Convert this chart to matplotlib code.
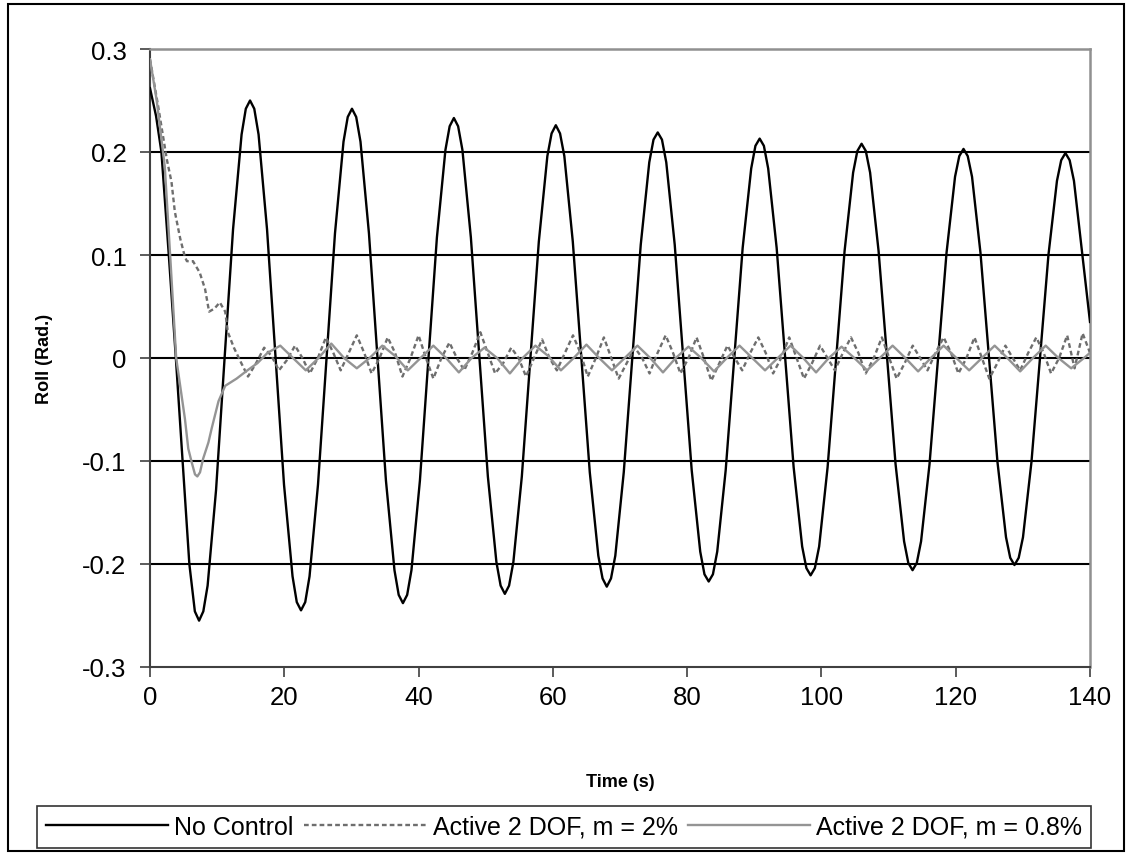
import matplotlib.pyplot as plt
from matplotlib.patches import Rectangle

# No Control roll response
t_nc = [0.0, 0.9, 1.7, 2.8, 3.85, 4.86, 5.86,
        6.68, 7.31, 7.94, 8.58, 9.84, 11.11, 12.37, 13.64,
        14.27, 14.90, 15.53, 16.17, 17.43, 18.70, 19.96, 21.23,
        21.86, 22.49, 23.12, 23.76, 25.02, 26.29, 27.55, 28.82,
        29.45, 30.08, 30.71, 31.35, 32.61, 33.88, 35.14, 36.41,
        37.04, 37.67, 38.30, 38.94, 40.20, 41.47, 42.73, 44.00,
        44.63, 45.26, 45.89, 46.53, 47.79, 49.06, 50.32, 51.59,
        52.22, 52.85, 53.48, 54.12, 55.38, 56.65, 57.91, 59.18,
        59.81, 60.44, 61.07, 61.71, 62.97, 64.24, 65.50, 66.77,
        67.40, 68.03, 68.66, 69.30, 70.56, 71.83, 73.09, 74.36,
        74.99, 75.62, 76.25, 76.89, 78.15, 79.42, 80.68, 81.95,
        82.58, 83.21, 83.84, 84.48, 85.74, 87.01, 88.27, 89.54,
        90.17, 90.80, 91.43, 92.07, 93.33, 94.60, 95.86, 97.13,
        97.76, 98.39, 99.02, 99.66, 100.92, 102.19, 103.45, 104.72,
        105.35, 105.98, 106.61, 107.25, 108.51, 109.78, 111.04, 112.31,
        112.94, 113.57, 114.20, 114.84, 116.10, 117.37, 118.63, 119.90,
        120.53, 121.16, 121.79, 122.43, 123.69, 124.96, 126.22, 127.49,
        128.12, 128.75, 129.38, 130.02, 131.28, 132.55, 133.81, 135.08,
        135.71, 136.34, 136.97, 137.61, 138.87, 140.0]
roll_nc = [0.262, 0.235, 0.200, 0.100, 0.0, -0.100, -0.200,
           -0.246, -0.255, -0.246, -0.221, -0.128, 0.0, 0.125, 0.217,
           0.242, 0.250, 0.242, 0.217, 0.125, 0.0, -0.123, -0.212,
           -0.237, -0.245, -0.237, -0.212, -0.123, 0.0, 0.121, 0.210,
           0.234, 0.242, 0.234, 0.210, 0.121, 0.0, -0.119, -0.206,
           -0.230, -0.238, -0.230, -0.206, -0.119, 0.0, 0.117, 0.202,
           0.225, 0.233, 0.225, 0.202, 0.117, 0.0, -0.115, -0.198,
           -0.221, -0.229, -0.221, -0.198, -0.115, 0.0, 0.113, 0.196,
           0.218, 0.226, 0.218, 0.196, 0.113, 0.0, -0.111, -0.192,
           -0.214, -0.222, -0.214, -0.192, -0.111, 0.0, 0.110, 0.190,
           0.212, 0.219, 0.212, 0.190, 0.110, 0.0, -0.109, -0.188,
           -0.210, -0.217, -0.210, -0.188, -0.109, 0.0, 0.107, 0.184,
           0.206, 0.213, 0.206, 0.184, 0.107, 0.0, -0.106, -0.183,
           -0.204, -0.211, -0.204, -0.183, -0.106, 0.0, 0.104, 0.180,
           0.201, 0.208, 0.201, 0.180, 0.104, 0.0, -0.103, -0.178,
           -0.199, -0.206, -0.199, -0.178, -0.103, 0.0, 0.102, 0.176,
           0.196, 0.203, 0.196, 0.176, 0.102, 0.0, -0.101, -0.174,
           -0.194, -0.201, -0.194, -0.174, -0.101, 0.0, 0.100, 0.172,
           0.192, 0.199, 0.192, 0.172, 0.100, 0.035]

# Active 2 DOF, m = 2%
t_m2 = [0.0, 1.2, 2.5, 3.2, 3.7, 4.5, 5.2, 5.5, 6.4, 7.4, 8.2, 8.8, 9.6,
        10.4, 11.2, 11.6, 12.5, 13.6, 14.6, 15.8, 17.0, 18.1, 19.2, 20.4,
        21.6, 22.7, 23.8, 25.0, 26.2, 27.3, 28.4, 29.6, 30.8, 31.9, 33.0,
        34.2, 35.4, 36.5, 37.6, 38.8, 40.0, 41.1, 42.2, 43.4, 44.6, 45.7,
        46.8, 48.0, 49.2, 50.3, 51.4, 52.6, 53.8, 54.9, 56.0, 57.2, 58.4,
        59.5, 60.6, 61.8, 63.0, 64.1, 65.2, 66.4, 67.6, 68.7, 69.8, 71.0,
        72.2, 73.3, 74.4, 75.6, 76.8, 77.9, 79.0, 80.2, 81.4, 82.5, 83.6,
        84.8, 86.0, 87.1, 88.2, 89.4, 90.6, 91.7, 92.8, 94.0, 95.2, 96.3,
        97.4, 98.6, 99.8, 100.9, 102.0, 103.2, 104.4, 105.5, 106.6, 107.8,
        109.0, 110.1, 111.2, 112.4, 113.6, 114.7, 115.8, 117.0, 118.2,
        119.3, 120.4, 121.6, 122.8, 123.9, 125.0, 126.2, 127.4, 128.5,
        129.6, 130.8, 132.0, 133.1, 134.2, 135.4, 136.6, 137.7, 138.9, 140.0]
roll_m2 = [0.290, 0.245, 0.193, 0.171, 0.142, 0.116, 0.098, 0.094, 0.094,
           0.083, 0.067, 0.045, 0.048, 0.054, 0.045, 0.025, 0.010, -0.005,
           -0.018, -0.005, 0.010, 0.002, -0.012, -0.002, 0.012, 0.0, -0.015,
           0.0, 0.020, 0.005, -0.012, 0.005, 0.022, 0.005, -0.015, 0.0,
           0.020, 0.005, -0.018, 0.0, 0.022, 0.0, -0.020, 0.0, 0.015, 0.0,
           -0.012, 0.005, 0.025, 0.005, -0.015, -0.005, 0.010, 0.0, -0.018,
           0.0, 0.018, 0.0, -0.012, 0.005, 0.022, 0.005, -0.018, 0.0, 0.020,
           0.0, -0.020, -0.005, 0.010, 0.0, -0.015, 0.005, 0.022, 0.005,
           -0.015, 0.0, 0.020, 0.0, -0.022, -0.005, 0.012, 0.0, -0.012, 0.005,
           0.020, 0.005, -0.015, 0.0, 0.020, 0.0, -0.020, -0.005, 0.012, 0.0,
           -0.012, 0.005, 0.020, 0.005, -0.015, 0.0, 0.020, 0.0, -0.020,
           -0.005, 0.012, 0.0, -0.012, 0.005, 0.020, 0.005, -0.015, 0.0,
           0.020, 0.0, -0.020, -0.005, 0.012, 0.0, -0.012, 0.005, 0.020,
           0.005, -0.015, 0.0, 0.022, -0.010, 0.024, 0.005]

# Active 2 DOF, m = 0.8%
t_m08 = [0.0, 1.0, 2.2, 3.0, 3.9, 5.2, 5.7, 6.2, 6.7, 7.05, 7.45, 7.9,
         8.7, 9.2, 10.2, 11.2, 12.9, 14.5, 16.0, 17.5, 19.4, 21.3, 23.2,
         25.1, 27.0, 28.9, 30.8, 32.7, 34.6, 36.5, 38.4, 40.3, 42.2, 44.1,
         46.0, 47.9, 49.8, 51.7, 53.6, 55.5, 57.4, 59.3, 61.2, 63.1, 65.0,
         66.9, 68.8, 70.7, 72.6, 74.5, 76.4, 78.3, 80.2, 82.1, 84.0, 85.9,
         87.8, 89.7, 91.6, 93.5, 95.4, 97.3, 99.2, 101.1, 103.0, 104.9,
         106.8, 108.7, 110.6, 112.5, 114.4, 116.3, 118.2, 120.1, 122.0,
         123.9, 125.8, 127.7, 129.6, 131.5, 133.4, 135.3, 137.2, 139.1, 140.0]
roll_m08 = [0.290, 0.250, 0.186, 0.100, 0.0, -0.059, -0.088, -0.101, -0.113,
            -0.115, -0.111, -0.098, -0.082, -0.068, -0.042, -0.027, -0.020,
            -0.012, -0.005, 0.005, 0.012, 0.0, -0.012, 0.0, 0.014, 0.0, -0.010,
            0.0, 0.012, 0.002, -0.012, 0.0, 0.012, 0.0, -0.014, 0.0, 0.010,
            0.0, -0.015, 0.0, 0.012, 0.002, -0.012, 0.0, 0.013, 0.0, -0.012,
            0.0, 0.012, 0.0, -0.014, 0.0, 0.011, 0.0, -0.013, 0.0, 0.012, 0.0,
            -0.012, 0.0, 0.012, 0.0, -0.014, 0.0, 0.011, 0.0, -0.012, 0.0,
            0.012, 0.0, -0.013, 0.0, 0.012, 0.0, -0.012, 0.0, 0.012, 0.0,
            -0.013, 0.0, 0.012, 0.0, -0.010, 0.0, 0.005]

x_ticks = [0, 20, 40, 60, 80, 100, 120, 140]
y_ticks = [-0.3, -0.2, -0.1, 0, 0.1, 0.2, 0.3]
y_labels = ['-0.3', '-0.2', '-0.1', '0', '0.1', '0.2', '0.3']

plt.rcParams['font.family'] = ['Liberation Sans', 'DejaVu Sans']

fig = plt.figure(figsize=(11.30, 8.54), dpi=100)
ax = fig.add_axes([150 / 1130, 1 - 668 / 854, 940 / 1130, 618 / 854])

# horizontal grid lines
for y in y_ticks[1:-1]:
    ax.axhline(y, color='black', linewidth=1.5, zorder=1)

ax.plot(t_nc, roll_nc, color='black', linewidth=1.7, label='No Control', zorder=3)
ax.plot(t_m2, roll_m2, color='#6e6e6e', linewidth=1.7, dashes=(2, 1.3),
        label='Active 2 DOF, m = 2%', zorder=4)
ax.plot(t_m08, roll_m08, color='#949494', linewidth=1.7,
        label='Active 2 DOF, m = 0.8%', zorder=5)

ax.set_xlim(0, 140)
ax.set_ylim(-0.3, 0.3)
ax.set_xticks(x_ticks)
ax.set_yticks(y_ticks)
ax.set_yticklabels(y_labels)
ax.tick_params(axis='both', labelsize=18.5, direction='out', length=7,
               width=1.2, color='#404040')
ax.tick_params(axis='y', pad=10)
ax.tick_params(axis='x', pad=6)

for side in ['left', 'bottom']:
    ax.spines[side].set_color('#404040')
    ax.spines[side].set_linewidth(1.5)
for side in ['top', 'right']:
    ax.spines[side].set_color('#909090')
    ax.spines[side].set_linewidth(1.8)

ax.set_xlabel('Time (s)', fontsize=13, fontweight='bold', labelpad=46)
ax.set_ylabel('Roll (Rad.)', fontsize=13, fontweight='bold', labelpad=21)

leg = fig.legend(loc='center', bbox_to_anchor=(564 / 1130, 1 - 828 / 854), ncol=3,
                 fontsize=18, frameon=True, fancybox=False, handlelength=4.9,
                 handletextpad=0.25, columnspacing=0.4, borderpad=0.35,
                 borderaxespad=0)
leg.get_frame().set_edgecolor('black')
leg.get_frame().set_linewidth(1.2)

# outer chart border
fig.patches.append(Rectangle((8 / 1130, 1 - 852 / 854), 1116 / 1130, 847 / 854,
                             transform=fig.transFigure, fill=False,
                             edgecolor='black', linewidth=1.5))

fig.savefig('out.png', dpi=100)
